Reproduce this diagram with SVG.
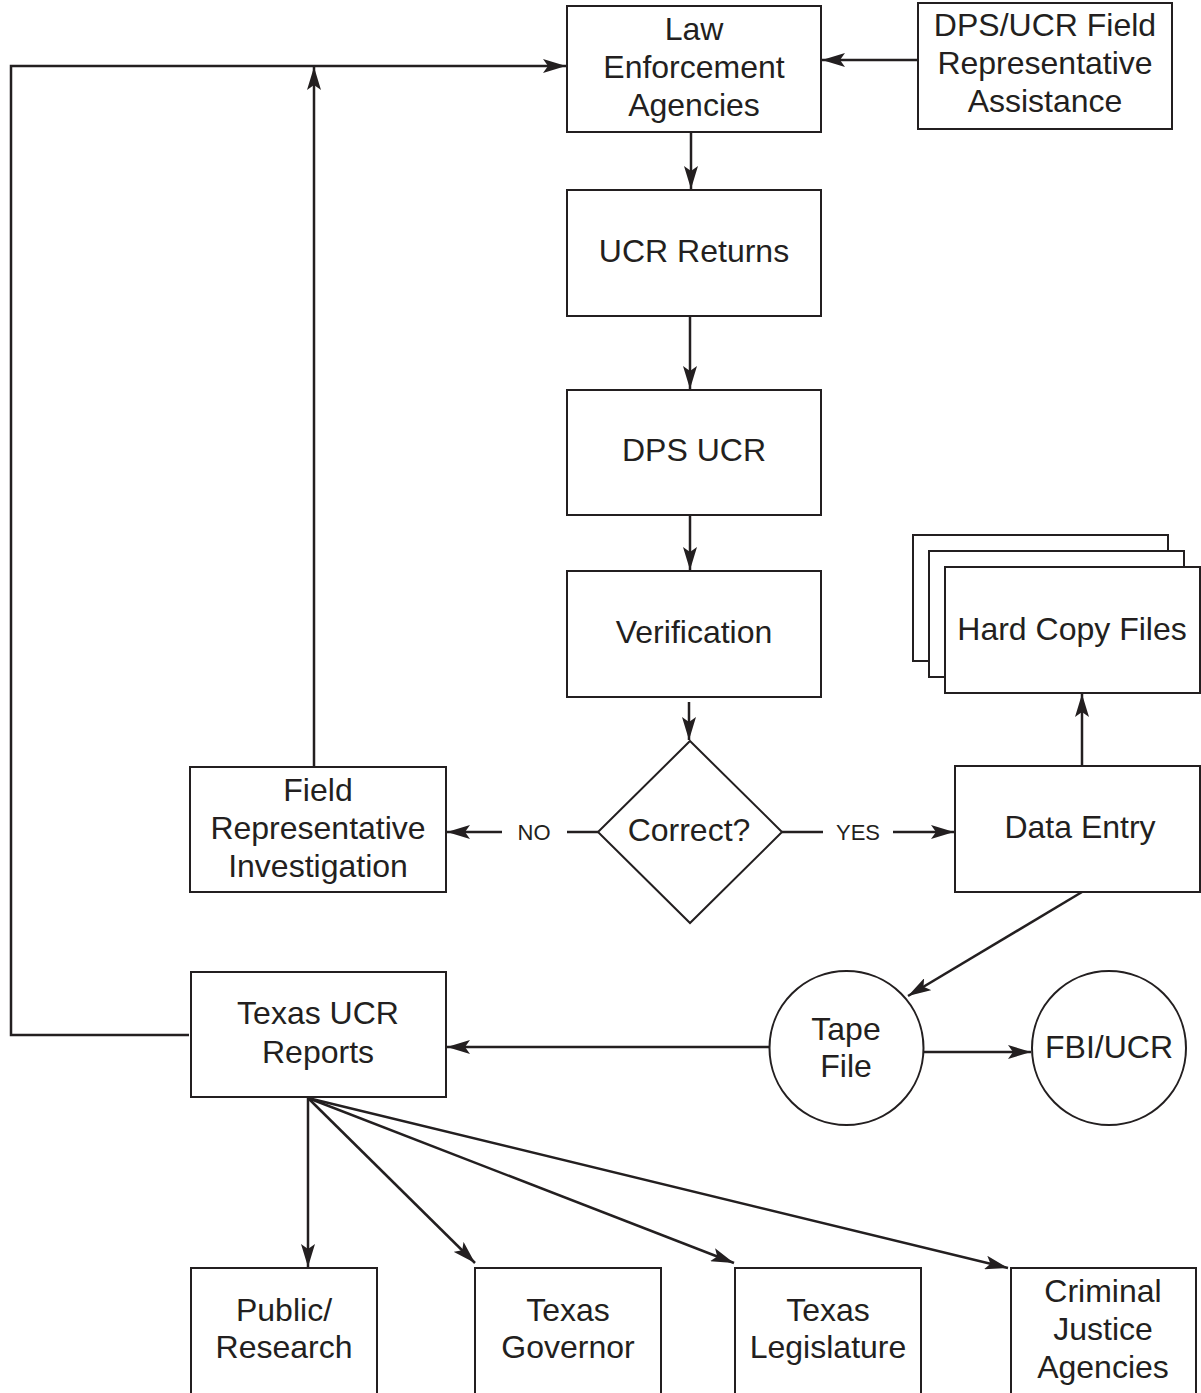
<svg xmlns="http://www.w3.org/2000/svg" width="1201" height="1393" viewBox="0 0 1201 1393">
<style>
.box{fill:#fff;stroke:#231f20;stroke-width:2}
.t{font-family:"Liberation Sans",Arial,sans-serif;font-size:32px;fill:#231f20;text-anchor:middle;dominant-baseline:central}
.s{font-family:"Liberation Sans",Arial,sans-serif;font-size:22px;fill:#231f20;text-anchor:middle;dominant-baseline:central}
.c{fill:none;stroke:#231f20;stroke-width:2.5}
.ca{fill:none;stroke:#231f20;stroke-width:2.5;marker-end:url(#ah)}
</style>
<defs>
<marker id="ah" markerUnits="userSpaceOnUse" markerWidth="24" markerHeight="14" refX="23" refY="7" orient="auto">
<path d="M0,0 L23,7 L0,14 L5,7 z" fill="#231f20"/>
</marker>
</defs>
<rect width="1201" height="1393" fill="#fff"/>

<g id="connectors">
<polyline class="ca" points="189,1035 11,1035 11,66 566,66"/>
<line class="ca" x1="314" y1="767" x2="314" y2="67"/>
<line class="ca" x1="918" y1="60" x2="822" y2="60"/>
<line class="ca" x1="691" y1="132" x2="691" y2="189"/>
<line class="ca" x1="690" y1="316" x2="690" y2="389"/>
<line class="ca" x1="690" y1="515" x2="690" y2="570"/>
<line class="ca" x1="689" y1="702" x2="689" y2="740"/>
<line class="c" x1="598" y1="832" x2="567" y2="832"/>
<text class="s" x="534" y="832">NO</text>
<line class="ca" x1="502" y1="832" x2="447" y2="832"/>
<line class="c" x1="782" y1="832" x2="823" y2="832"/>
<text class="s" x="858" y="832">YES</text>
<line class="ca" x1="893" y1="832" x2="954" y2="832"/>
<line class="ca" x1="1082" y1="766" x2="1082" y2="694"/>
<line class="ca" x1="1082" y1="892" x2="908" y2="996"/>
<line class="ca" x1="770" y1="1047" x2="447" y2="1047"/>
<line class="ca" x1="923" y1="1052" x2="1031" y2="1052"/>
<line class="ca" x1="308" y1="1098" x2="308" y2="1267"/>
<line class="ca" x1="308" y1="1098" x2="475" y2="1263"/>
<line class="ca" x1="308" y1="1098" x2="734" y2="1263"/>
<line class="ca" x1="308" y1="1098" x2="1008" y2="1268"/>
</g>

<g id="law-enforcement">
<rect class="box" x="567" y="6" width="254" height="126"/>
<text class="t" x="694" y="29">Law</text>
<text class="t" x="694" y="67">Enforcement</text>
<text class="t" x="694" y="105">Agencies</text>
</g>
<g id="dps-field-assistance">
<rect class="box" x="918" y="3" width="254" height="126"/>
<text class="t" x="1045" y="25">DPS/UCR Field</text>
<text class="t" x="1045" y="63">Representative</text>
<text class="t" x="1045" y="101">Assistance</text>
</g>
<g id="ucr-returns">
<rect class="box" x="567" y="190" width="254" height="126"/>
<text class="t" x="694" y="251">UCR Returns</text>
</g>
<g id="dps-ucr">
<rect class="box" x="567" y="390" width="254" height="125"/>
<text class="t" x="694" y="450">DPS UCR</text>
</g>
<g id="verification">
<rect class="box" x="567" y="571" width="254" height="126"/>
<text class="t" x="694" y="632">Verification</text>
</g>
<g id="correct">
<polygon class="box" points="690,741 782,832 690,923 598,832" stroke-width="1.5"/>
<text class="t" x="689" y="830">Correct?</text>
</g>
<g id="field-investigation">
<rect class="box" x="190" y="767" width="256" height="125"/>
<text class="t" x="318" y="790">Field</text>
<text class="t" x="318" y="828">Representative</text>
<text class="t" x="318" y="866">Investigation</text>
</g>
<g id="data-entry">
<rect class="box" x="955" y="766" width="245" height="126"/>
<text class="t" x="1080" y="827">Data Entry</text>
</g>
<g id="hard-copy-files">
<rect class="box" x="913" y="535" width="255" height="126"/>
<rect class="box" x="929" y="551" width="255" height="126"/>
<rect class="box" x="945" y="567" width="255" height="126"/>
<text class="t" x="1072" y="629">Hard Copy Files</text>
</g>
<g id="tape-file">
<circle class="box" cx="846.5" cy="1048" r="77" stroke-width="1.5"/>
<text class="t" x="846" y="1029">Tape</text>
<text class="t" x="846" y="1066">File</text>
</g>
<g id="fbi-ucr">
<circle class="box" cx="1109" cy="1048" r="77" stroke-width="1.5"/>
<text class="t" x="1109" y="1047">FBI/UCR</text>
</g>
<g id="texas-ucr-reports">
<rect class="box" x="191" y="972" width="255" height="125"/>
<text class="t" x="318" y="1013">Texas UCR</text>
<text class="t" x="318" y="1052">Reports</text>
</g>
<g id="public-research">
<rect class="box" x="191" y="1268" width="186" height="140"/>
<text class="t" x="284" y="1310">Public/</text>
<text class="t" x="284" y="1347">Research</text>
</g>
<g id="texas-governor">
<rect class="box" x="475" y="1268" width="186" height="140"/>
<text class="t" x="568" y="1310">Texas</text>
<text class="t" x="568" y="1347">Governor</text>
</g>
<g id="texas-legislature">
<rect class="box" x="735" y="1268" width="186" height="140"/>
<text class="t" x="828" y="1310">Texas</text>
<text class="t" x="828" y="1347">Legislature</text>
</g>
<g id="criminal-justice">
<rect class="box" x="1011" y="1268" width="185" height="140"/>
<text class="t" x="1103" y="1291">Criminal</text>
<text class="t" x="1103" y="1329">Justice</text>
<text class="t" x="1103" y="1367">Agencies</text>
</g>
</svg>
